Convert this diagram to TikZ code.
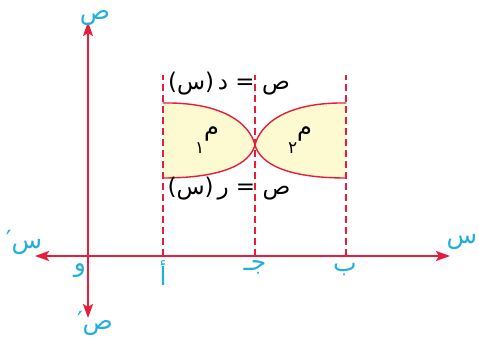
\documentclass[tikz,border=0pt]{standalone}
\usepackage{fontspec}
\usepackage{tikz}
\usetikzlibrary{arrows.meta}
\usepackage{xcolor}
\TeXXeTstate=1
\newfontfamily\arabicfont[Script=Arabic]{DejaVu Sans}
\newfontfamily\parenfont{DejaVu Sans}
\definecolor{axisred}{RGB}{230,30,60}
\definecolor{labelcyan}{RGB}{35,175,220}
\definecolor{areafill}{RGB}{253,249,208}

\begin{document}
\begin{tikzpicture}[x=1pt,y=1pt,>={Stealth[length=14pt,width=10pt,inset=3pt]},line cap=round,
  axis/.style={axisred,line width=2.2pt},
  guide/.style={axisred,line width=1.8pt,line cap=butt,dash pattern=on 7pt off 4pt},
  curve/.style={axisred,line width=1.4pt},
  axlabel/.style={labelcyan,font=\arabicfont\fontsize{25}{28}\selectfont,inner sep=0pt},
  eqlabel/.style={black,font=\arabicfont\fontsize{23}{26}\selectfont,inner sep=0pt},
  arealabel/.style={black,font=\arabicfont\fontsize{24}{26}\selectfont,inner sep=0pt}]
\useasboundingbox (0,0) rectangle (479,345);
\coordinate (O) at (88,89);
\coordinate (xl) at (35,89);
\coordinate (xr) at (450,89);
\coordinate (yb) at (88,27);
\coordinate (yt) at (88,323);
\coordinate (A) at (163,89);
\coordinate (C) at (255,89);
\coordinate (B) at (346,89);
\coordinate (At) at (163,270);
\coordinate (Ct) at (255,270);
\coordinate (Bt) at (346,270);
\coordinate (X) at (255,200);
\fill[areafill] (163,242) .. controls (225,243) and (250,220) .. (X)
  .. controls (250,182) and (225,167) .. (163,167) -- cycle;
\fill[areafill] (346,242) .. controls (285,243) and (260,220) .. (X)
  .. controls (260,182) and (285,167) .. (346,167) -- cycle;
\draw[guide] (A) -- (At);
\draw[guide] (C) -- (Ct);
\draw[guide] (B) -- (Bt);
\draw[curve] (163,242) .. controls (225,243) and (250,220) .. (X)
  .. controls (260,182) and (285,167) .. (346,167);
\draw[curve] (163,167) .. controls (225,167) and (250,182) .. (X)
  .. controls (260,220) and (285,243) .. (346,242);
\draw[axis,<->] (xl) -- (xr);
\draw[axis,<->] (yb) -- (yt);
\node[axlabel] (ylab) at (95,327) {\beginR ص\endR};
\node[axlabel] (yplab) at (95,22) {\beginR ص′\endR};
\node[axlabel] (xplab) at (24,103) {\beginR س′\endR};
\node[axlabel] (xlab) at (462,103) {\beginR س\endR};
\node[axlabel] (olab) at (80,74) {\beginR و\endR};
\node[axlabel] (alab) at (163,72) {\beginR أ\endR};
\node[axlabel] (clab) at (255,78) {\beginR جـ\endR};
\node[axlabel] (blab) at (345,75) {\beginR ب\endR};
\node[eqlabel] (flab) at (229,261) {\mbox{\parenfont(}\mbox{س}\mbox{\parenfont)}\,\mbox{د} \mbox{\parenfont=} \mbox{ص}};
\node[eqlabel] (glab) at (229,156) {\mbox{\parenfont(}\mbox{س}\mbox{\parenfont)}\,\mbox{ر} \mbox{\parenfont=} \mbox{ص}};
\node[arealabel] (m1) at (207,205) {\beginR م\raisebox{-1.4ex}{\fontsize{17}{18}\selectfont ١}\endR};
\node[arealabel] (m2) at (300,205) {\beginR م\raisebox{-1.4ex}{\fontsize{17}{18}\selectfont ٢}\endR};
\end{tikzpicture}
\end{document}
